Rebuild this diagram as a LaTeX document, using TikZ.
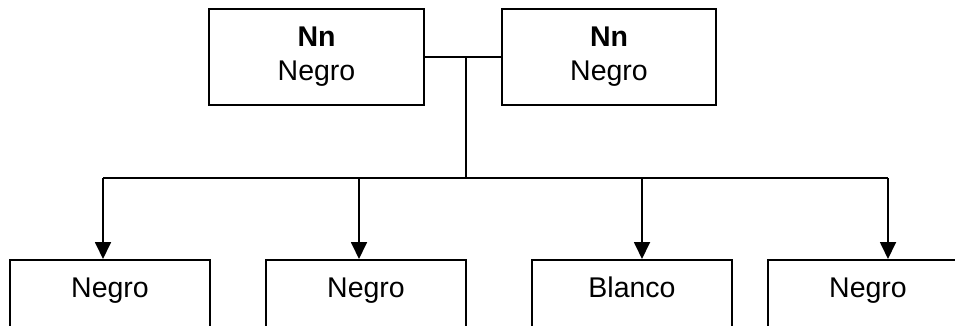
\documentclass[tikz,border=0pt]{standalone}
\usepackage{fontspec}
\setmainfont{Liberation Sans}
\usetikzlibrary{arrows.meta}
\tikzset{
  topbox/.style={draw, line width=1.8pt, minimum width=215pt, minimum height=96pt, align=center, inner sep=0pt,
    font=\fontsize{28.5}{34}\selectfont},
  botbox/.style={draw, line width=1.8pt, anchor=north, minimum width=200pt, inner xsep=0pt, inner ysep=17pt,
    text height=20.5pt, text depth=100pt, font=\fontsize{28.5}{34}\selectfont},
  wire/.style={line width=1.8pt},
  arr/.style={line width=1.8pt, -{Triangle[length=17pt,width=16pt]}}
}
\begin{document}
\begin{tikzpicture}[x=1pt,y=-1pt]
\path[use as bounding box, clip] (0,0) rectangle (955,326);
\fill[white] (0,0) rectangle (955,326);
\node[topbox] (L) at (316.5,57) {\textbf{Nn}\\Negro};
\node[topbox, minimum width=214pt] (R) at (609,57) {\textbf{Nn}\\Negro};
\node[botbox] (B1) at (110,259) {Negro};
\node[botbox] (B2) at (366,259) {Negro};
\node[botbox] (B3) at (632,259) {Blanco};
\node[botbox] (B4) at (868,259) {Negro};
\coordinate (jx) at (466,0);
\coordinate (j) at (L.east -| jx);
\coordinate (k) at (466,178);
\coordinate (a1) at (103,178);
\coordinate (a2) at (359,178);
\coordinate (a3) at (642,178);
\coordinate (a4) at (888,178);
\draw[wire] (L.east) -- (R.west);
\draw[wire] (j) -- (k);
\draw[wire] (a1) -- (a4);
\draw[arr] (a1) -- (a1 |- B1.north);
\draw[arr] (a2) -- (a2 |- B2.north);
\draw[arr] (a3) -- (a3 |- B3.north);
\draw[arr] (a4) -- (a4 |- B4.north);
\end{tikzpicture}
\end{document}
